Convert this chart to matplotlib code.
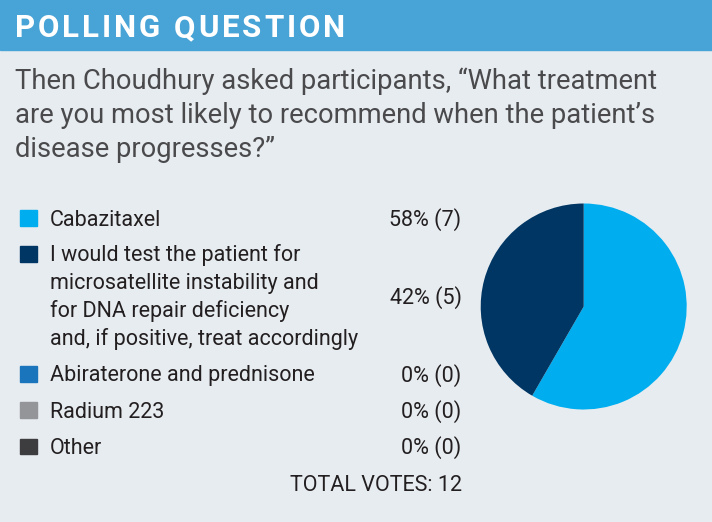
import matplotlib
matplotlib.use("Agg")
import matplotlib.pyplot as plt
from matplotlib import font_manager, ft2font
from matplotlib.patches import Rectangle

# ---------------- data ----------------
title = "POLLING QUESTION"
question = ["Then Choudhury asked participants, \u201cWhat treatment",
            "are you most likely to recommend when the patient\u2019s",
            "disease progresses?\u201d"]
categories = ["Cabazitaxel",
              "I would test the patient for\nmicrosatellite instability and\nfor DNA repair deficiency\nand, if positive, treat accordingly",
              "Abiraterone and prednisone",
              "Radium 223",
              "Other"]
votes = [7, 5, 0, 0, 0]
percents = [58, 42, 0, 0, 0]
colors = ["#00aeef", "#003663", "#1b75bc", "#939598", "#3d3d3f"]
total_votes = 12

# ---------------- layout ----------------
W, H = 712, 522
fig = plt.figure(figsize=(W / 100, H / 100), dpi=100)
fig.patch.set_facecolor("#e7ecf0")
bg = fig.add_axes([0, 0, 1, 1])
bg.set_xlim(0, W)
bg.set_ylim(H, 0)
bg.axis("off")


def advances(prop, size, s):
    f = ft2font.FT2Font(font_manager.findfont(prop))
    f.set_size(size, 100)
    return [f.load_char(ord(c)).linearHoriAdvance / 65536 for c in s]


# header band
bg.add_patch(Rectangle((0, 0), W, 50, color="#48a3d6", zorder=1))

# header text with letter spacing
hp = font_manager.FontProperties(family=["Roboto", "DejaVu Sans"], weight="bold")
hsize = 22.5
adv = advances(hp, hsize, title)
track = (330 - sum(adv)) / (len(title) - 1)
x = 15
for c, a in zip(title, adv):
    bg.text(x, 37, c, fontproperties=hp, fontsize=hsize, color="white",
            ha="left", va="baseline", zorder=2)
    x += a + track

# question (size fitted so the first line spans the reference width)
qp = font_manager.FontProperties(family=["Roboto", "DejaVu Sans"])
base = 20
w0 = sum(advances(qp, base, question[0]))
qsize = base * 641 / w0
for i, line in enumerate(question):
    bg.text(15, 89 + i * 34, line, fontproperties=qp, fontsize=qsize,
            color="#4a4a4c", ha="left", va="baseline")

# legend rows
lfam = ["Roboto", "DejaVu Sans"]
lsize = 15.5
baselines = [225.5, 261.5, 381.5, 417.5, 454]
line_h = 28
for cat, pct, v, col, yb in zip(categories, percents, votes, colors, baselines):
    bg.add_patch(Rectangle((20, yb - 15.5), 17, 15.5, color=col, zorder=2))
    lines = cat.split("\n")
    for j, ln in enumerate(lines):
        bg.text(50, yb + j * line_h, ln, family=lfam, fontsize=lsize,
                color="#231f20", ha="left", va="baseline")
    ymid = yb + (len(lines) - 1) * line_h / 2
    bg.text(461.5, ymid, f"{pct}% ({v})", family=lfam, fontsize=lsize,
            color="#231f20", ha="right", va="baseline")

bg.text(461.5, 491, f"TOTAL VOTES: {total_votes}", family=lfam, fontsize=lsize,
        color="#231f20", ha="right", va="baseline")

# pie
cx, cy, r = 583.7, 306.5, 103
pax = fig.add_axes([(cx - r) / W, 1 - (cy + r) / H, 2 * r / W, 2 * r / H])
pax.pie(votes, colors=colors, startangle=90, counterclock=False,
        wedgeprops=dict(linewidth=0))
pax.set_xlim(-1, 1)
pax.set_ylim(-1, 1)
pax.set_aspect("equal")
pax.axis("off")

fig.savefig("out.png", dpi=100, facecolor=fig.get_facecolor())
